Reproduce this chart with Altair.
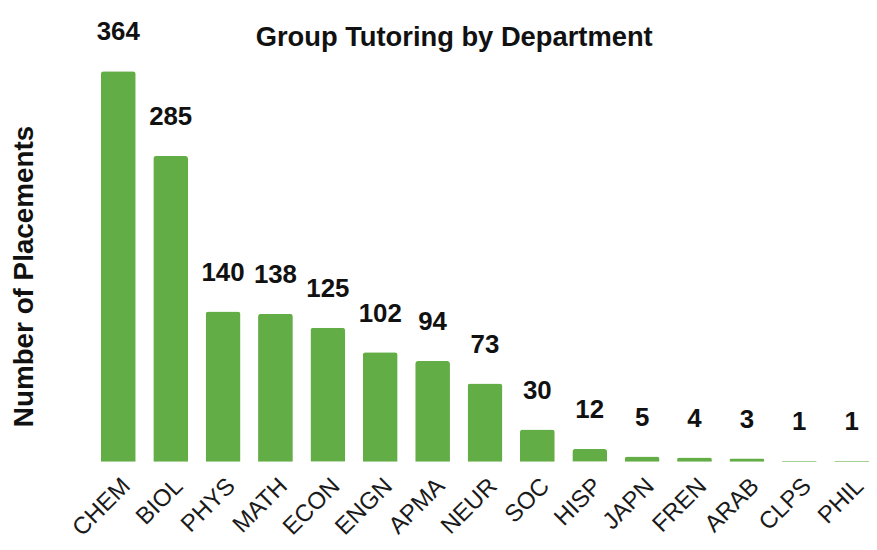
import altair as alt
import pandas as pd

departments = ["CHEM", "BIOL", "PHYS", "MATH", "ECON", "ENGN", "APMA", "NEUR",
               "SOC", "HISP", "JAPN", "FREN", "ARAB", "CLPS", "PHIL"]
placements = [364, 285, 140, 138, 125, 102, 94, 73, 30, 12, 5, 4, 3, 1, 1]

df = pd.DataFrame({"dept": departments, "n": placements})

FONT = "Liberation Sans"

x = alt.X("dept:N", sort=departments, title=None,
          scale=alt.Scale(paddingInner=0.336, paddingOuter=0),
          axis=alt.Axis(labelAngle=-45, labelAlign="right", labelBaseline="top",
                        labelPadding=12, labelFontSize=24, labelFont=FONT,
                        labelColor="#1a1a1a", ticks=False, domain=False, grid=False))
y = alt.Y("n:Q", scale=alt.Scale(domain=[0, 400], nice=False),
          axis=alt.Axis(title="Number of Placements", labels=False, ticks=False,
                        domain=False, grid=False, titleFontSize=28, titleFont=FONT,
                        titleFontWeight="bold", titleColor="#111111",
                        titleX=-77, titleY=245, titleAlign="center",
                        titleBaseline="middle", titleAngle=-90))

bars = alt.Chart(df).mark_bar(color="#63ad46", cornerRadiusTopLeft=3,
                              cornerRadiusTopRight=3).encode(x=x, y=y)
labels = alt.Chart(df).mark_text(baseline="alphabetic", dy=-31, fontSize=26,
                                 fontWeight="bold", font=FONT, color="#111111").encode(
    x=alt.X("dept:N", sort=departments), y="n:Q", text="n:Q")

chart = alt.layer(bars, labels).properties(
    width=773, height=432,
    title=alt.Title("Group Tutoring by Department", fontSize=27.5, font=FONT,
                    fontWeight="bold", color="#111111", dx=-31, dy=36),
    autosize=alt.AutoSizeParams(type="none"),
    padding={"left": 93.5, "top": 23, "right": 0, "bottom": 79},
).configure_view(stroke=None)

chart.save("out.html", embed_options={"renderer": "svg", "actions": False})
